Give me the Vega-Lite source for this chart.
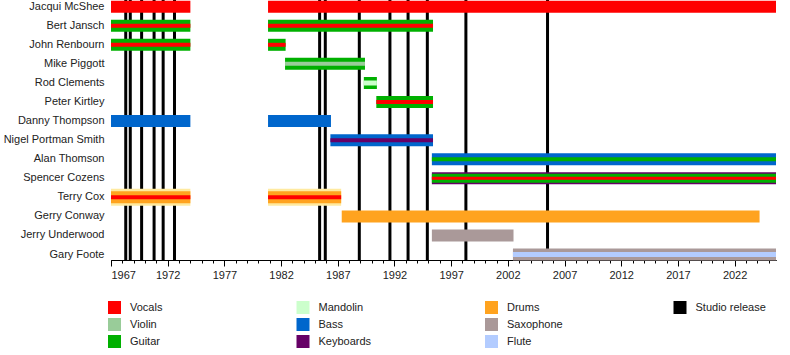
{
  "$schema": "https://vega.github.io/schema/vega-lite/v6.json",
  "width": 665,
  "height": 260,
  "autosize": {"type": "none"},
  "padding": {"left": 111, "top": 0, "right": 14, "bottom": 95},
  "background": "white",
  "config": {
    "view": {"stroke": null},
    "font": "Liberation Sans",
    "axis": {"labelFont": "Liberation Sans", "labelFontSize": 11, "labelColor": "#222222", "grid": false},
    "legend": {"labelFont": "Liberation Sans", "labelFontSize": 11, "labelColor": "#222222"}
  },
  "datasets": {
    "bars": [
      {"member": "Jacqui McShee", "instrument": "Vocals", "start": 1967, "end": 1974.0, "thick": 12},
      {"member": "Jacqui McShee", "instrument": "Vocals", "start": 1980.85, "end": 2025.65, "thick": 12},
      {"member": "Bert Jansch", "instrument": "Guitar", "start": 1967, "end": 1974.0, "thick": 12},
      {"member": "Bert Jansch", "instrument": "Vocals", "start": 1967, "end": 1974.0, "thick": 4},
      {"member": "Bert Jansch", "instrument": "Guitar", "start": 1980.85, "end": 1995.4, "thick": 12},
      {"member": "Bert Jansch", "instrument": "Vocals", "start": 1980.85, "end": 1995.4, "thick": 4},
      {"member": "John Renbourn", "instrument": "Guitar", "start": 1967, "end": 1974.0, "thick": 12},
      {"member": "John Renbourn", "instrument": "Vocals", "start": 1967, "end": 1974.0, "thick": 4},
      {"member": "John Renbourn", "instrument": "Guitar", "start": 1980.85, "end": 1982.4, "thick": 12},
      {"member": "John Renbourn", "instrument": "Vocals", "start": 1980.85, "end": 1982.4, "thick": 4},
      {"member": "Mike Piggott", "instrument": "Guitar", "start": 1982.35, "end": 1989.4, "thick": 12},
      {"member": "Mike Piggott", "instrument": "Violin", "start": 1982.35, "end": 1989.4, "thick": 4},
      {"member": "Rod Clements", "instrument": "Guitar", "start": 1989.3, "end": 1990.45, "thick": 12},
      {"member": "Rod Clements", "instrument": "Mandolin", "start": 1989.3, "end": 1990.45, "thick": 5},
      {"member": "Peter Kirtley", "instrument": "Guitar", "start": 1990.4, "end": 1995.4, "thick": 12},
      {"member": "Peter Kirtley", "instrument": "Vocals", "start": 1990.4, "end": 1995.4, "thick": 4},
      {"member": "Danny Thompson", "instrument": "Bass", "start": 1967, "end": 1974.0, "thick": 12},
      {"member": "Danny Thompson", "instrument": "Bass", "start": 1980.85, "end": 1986.4, "thick": 12},
      {"member": "Nigel Portman Smith", "instrument": "Bass", "start": 1986.35, "end": 1995.4, "thick": 12},
      {"member": "Nigel Portman Smith", "instrument": "Keyboards", "start": 1986.35, "end": 1995.4, "thick": 4},
      {"member": "Alan Thomson", "instrument": "Bass", "start": 1995.3, "end": 2025.65, "thick": 12},
      {"member": "Alan Thomson", "instrument": "Guitar", "start": 1995.3, "end": 2025.65, "thick": 4},
      {"member": "Spencer Cozens", "instrument": "Keyboards", "start": 1995.3, "end": 2025.65, "thick": 12},
      {"member": "Spencer Cozens", "instrument": "Guitar", "start": 1995.3, "end": 2025.65, "thick": 9},
      {"member": "Spencer Cozens", "instrument": "Vocals", "start": 1995.3, "end": 2025.65, "thick": 3},
      {"member": "Terry Cox", "instrument": "Drums", "start": 1967, "end": 1974.0, "thick": 12},
      {"member": "Terry Cox", "instrument": "Vocals", "start": 1967, "end": 1974.0, "thick": 4},
      {"member": "Terry Cox", "instrument": "Drums", "start": 1980.85, "end": 1987.3, "thick": 12},
      {"member": "Terry Cox", "instrument": "Vocals", "start": 1980.85, "end": 1987.3, "thick": 4},
      {"member": "Gerry Conway", "instrument": "Drums", "start": 1987.35, "end": 2024.2, "thick": 12},
      {"member": "Jerry Underwood", "instrument": "Saxophone", "start": 1995.3, "end": 2002.5, "thick": 12},
      {"member": "Gary Foote", "instrument": "Saxophone", "start": 2002.45, "end": 2025.65, "thick": 12},
      {"member": "Gary Foote", "instrument": "Flute", "start": 2002.45, "end": 2025.65, "thick": 5}
    ],
    "halo": [
      {"member": "Terry Cox", "start": 1967, "end": 1974.0},
      {"member": "Terry Cox", "start": 1980.85, "end": 1987.3}
    ],
    "releases": [
      {"year": 1968.3}, {"year": 1968.7}, {"year": 1969.7}, {"year": 1970.8},
      {"year": 1971.6}, {"year": 1972.6}, {"year": 1985.4}, {"year": 1985.9},
      {"year": 1988.9}, {"year": 1991.6}, {"year": 1993.2}, {"year": 1994.9},
      {"year": 1998.3}, {"year": 2005.5}
    ]
  },
  "resolve": {"axis": {"x": "independent"}},
  "layer": [
    {
      "data": {"name": "releases"},
      "mark": {"type": "rule", "color": "black", "strokeWidth": 3},
      "encoding": {
        "x": {
          "field": "year", "type": "quantitative",
          "scale": {"domain": [1967, 2025.65], "nice": false, "zero": false},
          "axis": {
            "orient": "bottom", "title": null, "labels": false, "domain": true, "domainColor": "black",
            "ticks": true, "tickSize": 3, "tickColor": "black",
            "values": [1967,1968,1969,1970,1971,1972,1973,1974,1975,1976,1977,1978,1979,1980,1981,1982,1983,1984,1985,1986,1987,1988,1989,1990,1991,1992,1993,1994,1995,1996,1997,1998,1999,2000,2001,2002,2003,2004,2005,2006,2007,2008,2009,2010,2011,2012,2013,2014,2015,2016,2017,2018,2019,2020,2021,2022,2023,2024,2025]
          }
        }
      }
    },
    {
      "data": {"name": "halo"},
      "mark": {"type": "bar", "color": "#ffeaa0", "size": 17},
      "encoding": {
        "y": {
          "field": "member", "type": "nominal",
          "sort": ["Jacqui McShee","Bert Jansch","John Renbourn","Mike Piggott","Rod Clements","Peter Kirtley","Danny Thompson","Nigel Portman Smith","Alan Thomson","Spencer Cozens","Terry Cox","Gerry Conway","Jerry Underwood","Gary Foote"],
          "scale": {"domain": ["Jacqui McShee","Bert Jansch","John Renbourn","Mike Piggott","Rod Clements","Peter Kirtley","Danny Thompson","Nigel Portman Smith","Alan Thomson","Spencer Cozens","Terry Cox","Gerry Conway","Jerry Underwood","Gary Foote"], "range": [0, 261.2], "paddingInner": 0.3, "paddingOuter": 0},
          "axis": {"title": null, "domain": false, "ticks": false, "labelPadding": 7}
        },
        "x": {"field": "start", "type": "quantitative", "scale": {"domain": [1967, 2025.65], "nice": false, "zero": false}, "axis": null},
        "x2": {"field": "end"}
      }
    },
    {
      "data": {"name": "bars"},
      "mark": {"type": "bar"},
      "encoding": {
        "y": {
          "field": "member", "type": "nominal",
          "sort": ["Jacqui McShee","Bert Jansch","John Renbourn","Mike Piggott","Rod Clements","Peter Kirtley","Danny Thompson","Nigel Portman Smith","Alan Thomson","Spencer Cozens","Terry Cox","Gerry Conway","Jerry Underwood","Gary Foote"],
          "scale": {"domain": ["Jacqui McShee","Bert Jansch","John Renbourn","Mike Piggott","Rod Clements","Peter Kirtley","Danny Thompson","Nigel Portman Smith","Alan Thomson","Spencer Cozens","Terry Cox","Gerry Conway","Jerry Underwood","Gary Foote"], "range": [0, 261.2], "paddingInner": 0.3, "paddingOuter": 0},
          "axis": {"title": null, "domain": false, "ticks": false, "labelPadding": 7}
        },
        "x": {
          "field": "start", "type": "quantitative",
          "scale": {"domain": [1967, 2025.65], "nice": false, "zero": false},
          "axis": {
            "orient": "bottom", "title": null, "format": "d", "domain": true, "domainColor": "black",
            "tickColor": "black", "tickSize": 6, "labelPadding": 3,
            "values": [1967, 1972, 1977, 1982, 1987, 1992, 1997, 2002, 2007, 2012, 2017, 2022]
          }
        },
        "x2": {"field": "end"},
        "size": {"field": "thick", "type": "quantitative", "scale": null, "legend": null},
        "color": {
          "field": "instrument", "type": "nominal",
          "scale": {
            "domain": ["Vocals", "Violin", "Guitar", "Mandolin", "Bass", "Keyboards", "Drums", "Saxophone", "Flute", "Studio release", " ", "  "],
            "range": ["#ff0000", "#99cc99", "#00b000", "#ccffcc", "#0066cc", "#660066", "#ffa31f", "#aa9999", "#b3ccff", "#000000", "#ffffff", "#ffffff"]
          },
          "legend": {
            "title": null, "orient": "none", "legendX": -3, "legendY": 301,
            "columns": 4, "gridAlign": "all", "columnPadding": 95.5, "rowPadding": 4,
            "symbolType": "square", "symbolSize": 169, "symbolStrokeWidth": 0,
            "labelOffset": 9, "padding": 0
          }
        }
      }
    }
  ]
}
